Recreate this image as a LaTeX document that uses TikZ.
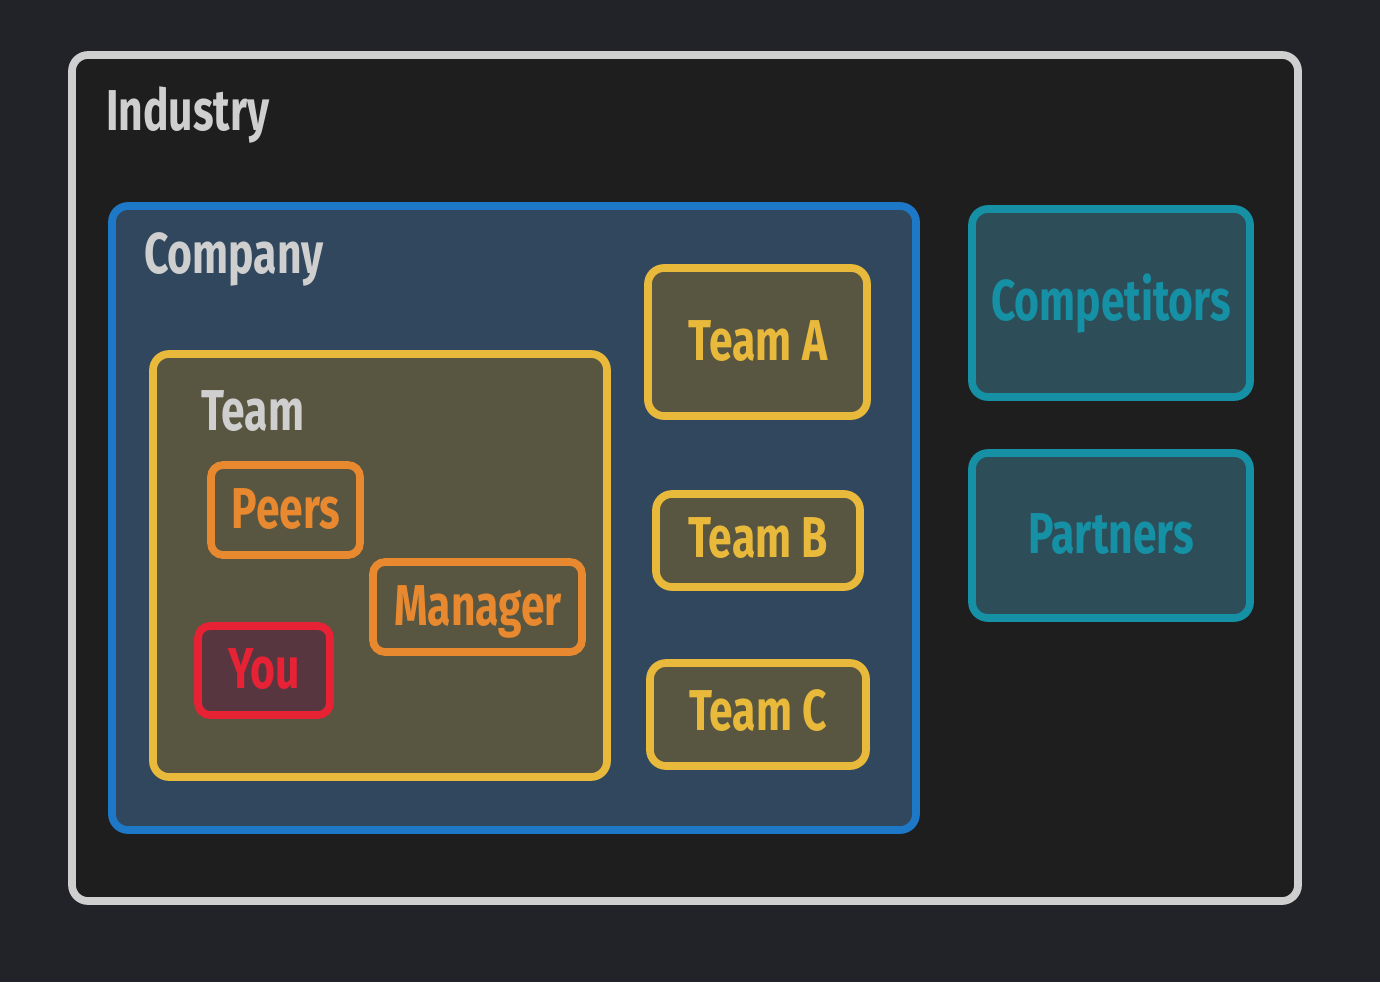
\documentclass[tikz,border=0pt]{standalone}
\usepackage{fontspec}
\setmainfont{Fira Sans}
\usetikzlibrary{fit}
\definecolor{bgc}{HTML}{212329}
\definecolor{indfill}{HTML}{1E1E1E}
\definecolor{indline}{HTML}{CFCFCF}
\definecolor{compfill}{HTML}{30475E}
\definecolor{compline}{HTML}{1E78C8}
\definecolor{teamfill}{HTML}{585541}
\definecolor{teamline}{HTML}{E8B93A}
\definecolor{orng}{HTML}{E8892F}
\definecolor{redl}{HTML}{E82235}
\definecolor{youfill}{HTML}{583640}
\definecolor{cyanl}{HTML}{1590A5}
\definecolor{cyanfill}{HTML}{2D4E58}
\newcommand{\hand}[1]{\scalebox{0.74}[1]{\bfseries #1}}
\tikzset{
  box/.style={draw, rectangle, rounded corners=0.8cm, line width=11pt, inner sep=0pt},
  lbl/.style={inner sep=0pt, font=\fontsize{82}{90}\selectfont},
}
\begin{document}
\begin{tikzpicture}[x=0.05cm,y=-0.05cm]
\fill[bgc] (0,0) rectangle (1380,982);
\useasboundingbox (0,0) rectangle (1380,982);
% containers
\node[box, fill=indfill, draw=indline, fit={(72,55) (1298,901)}] (industry) {};
\node[box, fill=compfill, draw=compline, fit={(112,206) (916,830)}] (company) {};
\node[box, fill=teamfill, draw=teamline, fit={(153,354) (607,777)}] (team) {};
% leaf boxes
\node[box, fill=teamfill, draw=teamline, fit={(648,268) (867,416)}] (teamA) {};
\node[box, fill=teamfill, draw=teamline, fit={(656,494) (860,587)}] (teamB) {};
\node[box, fill=teamfill, draw=teamline, fit={(650,663) (866,766)}] (teamC) {};
\node[box, fill=cyanfill, draw=cyanl, fit={(972,209) (1250,397)}] (competitors) {};
\node[box, fill=cyanfill, draw=cyanl, fit={(972,453) (1250,618)}] (partners) {};
\node[box, fill=teamfill, draw=orng, rounded corners=0.6cm, fit={(211,465) (360,555)}] (peers) {};
\node[box, fill=teamfill, draw=orng, rounded corners=0.6cm, fit={(373,562) (582,652)}] (manager) {};
\node[box, fill=youfill, draw=redl, rounded corners=0.6cm, fit={(198,626) (330,715)}] (you) {};
% labels
\node[lbl, text=indline, anchor=base west] (tIndustry) at (106,130) {\hand{Industry}};
\node[lbl, text=indline, anchor=base west] (tCompany) at (144,273) {\hand{Company}};
\node[lbl, text=indline, anchor=base west] (tTeam) at (201,430) {\hand{Team}};
\node[lbl, text=teamline, anchor=base] (tA) at (758,360) {\hand{Team A}};
\node[lbl, text=teamline, anchor=base] (tB) at (758,557) {\hand{Team B}};
\node[lbl, text=teamline, anchor=base] (tC) at (758,730) {\hand{Team C}};
\node[lbl, text=cyanl, anchor=base] (tComp) at (1111,320) {\hand{Competitors}};
\node[lbl, text=cyanl, anchor=base] (tPart) at (1111,553) {\hand{Partners}};
\node[lbl, text=orng, anchor=base] (tPeers) at (286,528) {\hand{Peers}};
\node[lbl, text=orng, anchor=base] (tMan) at (478,625) {\hand{Manager}};
\node[lbl, text=redl, anchor=base] (tYou) at (264,688) {\hand{You}};
\end{tikzpicture}
\end{document}
